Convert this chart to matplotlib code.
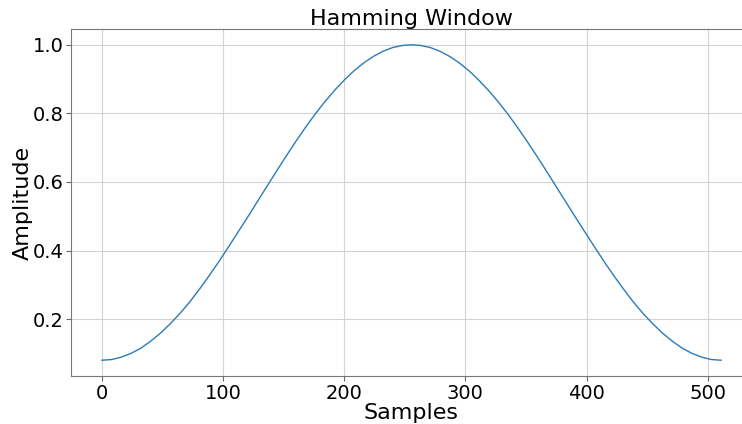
import matplotlib
matplotlib.use("Agg")
import matplotlib.pyplot as plt

# sample index and window amplitude, every 8 samples (mirrored about the centre)
samples = [0, 8, 16, 24, 32, 40, 48, 56, 64, 72, 80, 88, 96, 104, 112, 120, 128,
           136, 144, 152, 160, 168, 176, 184, 192, 200, 208, 216, 224, 232, 240, 248,
           255.5,
           263, 271, 279, 287, 295, 303, 311, 319, 327, 335, 343, 351, 359, 367, 375,
           383, 391, 399, 407, 415, 423, 431, 439, 447, 455, 463, 471, 479, 487, 495,
           503, 511]
amplitude = [0.080, 0.082, 0.089, 0.100, 0.115, 0.135, 0.158, 0.185, 0.215, 0.248,
             0.285, 0.324, 0.365, 0.408, 0.452, 0.496, 0.541, 0.586, 0.631, 0.675,
             0.718, 0.759, 0.798, 0.834, 0.867, 0.897, 0.924, 0.947, 0.966, 0.981,
             0.992, 0.998,
             1.000,
             0.998, 0.992, 0.981, 0.966, 0.947, 0.924, 0.897, 0.867, 0.834, 0.798,
             0.759, 0.718, 0.675, 0.631, 0.586, 0.541, 0.496, 0.452, 0.408, 0.365,
             0.324, 0.285, 0.248, 0.215, 0.185, 0.158, 0.135, 0.115, 0.100, 0.089,
             0.082, 0.080]

fig = plt.figure(figsize=(7.42, 4.24), dpi=100)
# axes run slightly past the right edge of the canvas
ax = fig.add_axes([71 / 742, 1 - 376 / 424, (752 - 71) / 742, (376 - 29) / 424])

ax.plot(samples, amplitude, color="#2b7bba", linewidth=1.0)

ax.set_title("Hamming Window", fontsize=16, pad=2.5)
ax.set_xlabel("Samples", fontsize=16, labelpad=0)
ax.set_ylabel("Amplitude", fontsize=16, labelpad=0)
ax.set_xticks([0, 100, 200, 300, 400, 500])
ax.set_yticks([0.2, 0.4, 0.6, 0.8, 1.0])
ax.tick_params(labelsize=14, colors="#666666", labelcolor="black", length=3.5, pad=2)
ax.grid(True, color="#d3d3d3", linewidth=0.8)
for s in ax.spines.values():
    s.set_color("#777777")

fig.savefig("out.png", dpi=100)
